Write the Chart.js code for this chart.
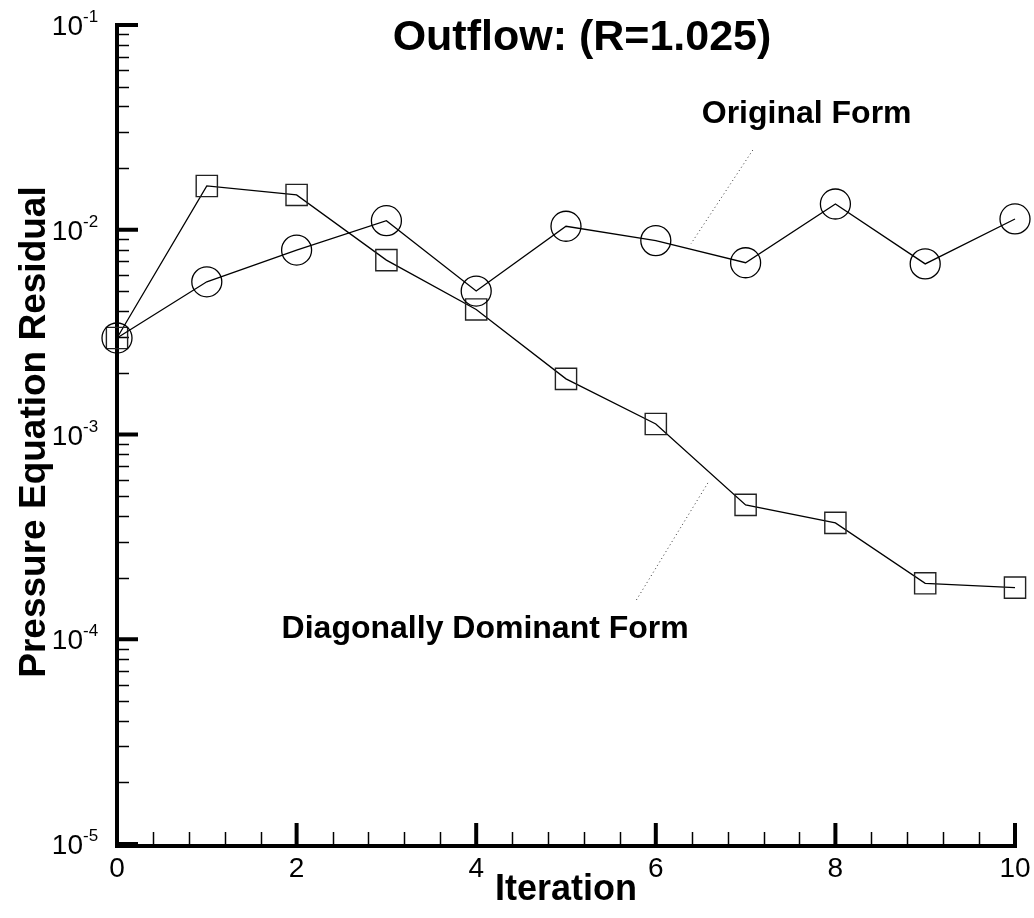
<!DOCTYPE html>
<html>
<head>
<meta charset="utf-8">
<script src="https://cdn.jsdelivr.net/npm/chart.js@4.4.1/dist/chart.umd.min.js"></script>
<style>
  html, body { margin: 0; padding: 0; background: #fff; }
  #wrap { width: 1034px; height: 918px; position: relative; }
</style>
</head>
<body>
<div id="wrap"><canvas id="chart-1"></canvas></div>
<script>
const iterations = [0, 1, 2, 3, 4, 5, 6, 7, 8, 9, 10];
const originalForm = [2.96e-3, 5.57e-3, 7.96e-3, 1.107e-2, 5.02e-3, 1.04e-2, 8.85e-3, 6.90e-3, 1.336e-2, 6.81e-3, 1.129e-2];
const diagonallyDominant = [2.96e-3, 1.636e-2, 1.479e-2, 7.11e-3, 4.08e-3, 1.87e-3, 1.125e-3, 4.53e-4, 3.70e-4, 1.876e-4, 1.786e-4];
const xTickValues = [0, 2, 4, 6, 8, 10];
const yDecades = [-5, -4, -3, -2, -1];

const titleText = 'Outflow: (R=1.025)';
const xTitleText = 'Iteration';
const yTitleText = 'Pressure Equation Residual';
const seriesNames = ['Original Form', 'Diagonally Dominant Form'];

const FONT = '"Liberation Sans", Arial, sans-serif';

// axes, ticks, labels and callouts drawn by hand (tecplot style, ticks pointing in)
const tecplotAxes = {
  id: 'tecplotAxes',
  beforeDatasetsDraw(chart) {
    const ctx = chart.ctx;
    const xs = chart.scales.x, ys = chart.scales.y;
    const left = xs.getPixelForValue(0), right = xs.getPixelForValue(10);
    const top = ys.getPixelForValue(1e-1), bottom = ys.getPixelForValue(1e-5);
    ctx.save();
    ctx.strokeStyle = '#000';
    ctx.lineCap = 'butt';

    // y minor ticks
    ctx.lineWidth = 1.5;
    yDecades.slice(0, -1).forEach(d => {
      for (let m = 2; m <= 9; m++) {
        const py = Math.round(ys.getPixelForValue(m * Math.pow(10, d))) + 0.5;
        ctx.beginPath();
        ctx.moveTo(left, py);
        ctx.lineTo(left + 12, py);
        ctx.stroke();
      }
    });
    // x minor ticks
    for (let v = 0; v < 10; v += 0.4) {
      if (Math.abs(v / 2 - Math.round(v / 2)) < 0.01) continue;
      const px = Math.round(xs.getPixelForValue(v)) + 0.5;
      ctx.beginPath();
      ctx.moveTo(px, bottom);
      ctx.lineTo(px, bottom - 12);
      ctx.stroke();
    }
    // major ticks
    ctx.lineWidth = 4;
    yDecades.forEach(d => {
      const py = ys.getPixelForValue(Math.pow(10, d));
      ctx.beginPath();
      ctx.moveTo(left, py);
      ctx.lineTo(left + 21, py);
      ctx.stroke();
    });
    xTickValues.forEach(v => {
      const px = xs.getPixelForValue(v);
      ctx.beginPath();
      ctx.moveTo(px, bottom);
      ctx.lineTo(px, bottom - 21);
      ctx.stroke();
    });
    // axis lines
    ctx.lineWidth = 4;
    ctx.beginPath();
    ctx.moveTo(left, top - 2);
    ctx.lineTo(left, bottom + 2);
    ctx.lineTo(right + 2, bottom + 2);
    ctx.stroke();

    // dotted leader lines
    ctx.lineWidth = 1;
    ctx.strokeStyle = '#333';
    ctx.setLineDash([1, 3]);
    [[7.08, 2.45e-2, 6.39, 8.52e-3], [6.58, 5.80e-4, 5.77, 1.52e-4]].forEach(l => {
      ctx.beginPath();
      ctx.moveTo(xs.getPixelForValue(l[0]), ys.getPixelForValue(l[1]));
      ctx.lineTo(xs.getPixelForValue(l[2]), ys.getPixelForValue(l[3]));
      ctx.stroke();
    });
    ctx.restore();
  },
  afterDraw(chart) {
    const ctx = chart.ctx;
    const xs = chart.scales.x, ys = chart.scales.y;
    const left = xs.getPixelForValue(0);
    const bottom = ys.getPixelForValue(1e-5);
    ctx.save();
    ctx.fillStyle = '#000';
    ctx.textBaseline = 'alphabetic';

    // y tick labels 10^n
    yDecades.forEach(d => {
      const py = ys.getPixelForValue(Math.pow(10, d));
      ctx.font = '28px ' + FONT;
      ctx.textAlign = 'right';
      ctx.fillText('10', left - 34, py + 10);
      ctx.font = '17px ' + FONT;
      ctx.textAlign = 'left';
      ctx.fillText(String(d), left - 34, py - 3);
    });
    // x tick labels
    ctx.font = '28px ' + FONT;
    ctx.textAlign = 'center';
    xTickValues.forEach(v => {
      ctx.fillText(String(v), xs.getPixelForValue(v), bottom + 33);
    });

    // titles
    ctx.font = 'bold 43px ' + FONT;
    ctx.fillText(titleText, 582, 50);
    ctx.font = 'bold 36px ' + FONT;
    ctx.fillText(xTitleText, 566, 900);
    ctx.save();
    ctx.translate(45, 432);
    ctx.rotate(-Math.PI / 2);
    ctx.font = 'bold 37px ' + FONT;
    ctx.fillText(yTitleText, 0, 0);
    ctx.restore();

    // series callouts
    ctx.font = 'bold 32px ' + FONT;
    ctx.fillText(seriesNames[0], xs.getPixelForValue(7.68), ys.getPixelForValue(3.32e-2));
    ctx.fillText(seriesNames[1], xs.getPixelForValue(4.10), ys.getPixelForValue(1.014e-4));
    ctx.restore();
  }
};

const chart = new Chart(document.getElementById('chart-1'), {
  type: 'scatter',
  data: {
    datasets: [{
      label: seriesNames[0],
      data: iterations.map((x, i) => ({ x: x, y: originalForm[i] })),
      showLine: true,
      borderColor: '#000',
      borderWidth: 1.3,
      pointStyle: 'circle',
      pointRadius: 15,
      pointBorderWidth: 1.3,
      pointBorderColor: '#000',
      pointBackgroundColor: 'rgba(0,0,0,0)',
      tension: 0,
      clip: false
    },
    {
      label: seriesNames[1],
      data: iterations.map((x, i) => ({ x: x, y: diagonallyDominant[i] })),
      showLine: true,
      borderColor: '#000',
      borderWidth: 1.3,
      pointStyle: 'rect',
      pointRadius: 15,
      pointBorderWidth: 1.4,
      pointBorderColor: '#222',
      pointBackgroundColor: 'rgba(0,0,0,0)',
      tension: 0,
      clip: false
    }]
  },
  options: {
    responsive: true,
    maintainAspectRatio: false,
    animation: false,
    layout: { padding: { left: 117, right: 19, top: 25, bottom: 74 } },
    plugins: {
      legend: { display: false },
      tooltip: { enabled: false }
    },
    scales: {
      x: { type: 'linear', min: 0, max: 10, display: false },
      y: { type: 'logarithmic', min: 1e-5, max: 1e-1, display: false }
    }
  },
  plugins: [tecplotAxes]
});
</script>
</body>
</html>
